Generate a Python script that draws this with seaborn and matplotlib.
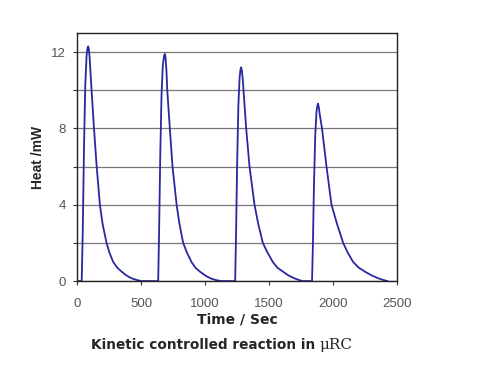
import matplotlib
matplotlib.use("Agg")
import matplotlib.pyplot as plt
import seaborn as sns
import pandas as pd

# Heat flow, four injections
time_1 = [0, 37, 45, 55, 65, 75, 82, 88, 94, 100, 114, 133, 154, 179, 200, 231, 253, 283,
          315, 348, 385, 425, 470, 505]
heat_1 = [0, 0, 2.5, 7.0, 10.3, 11.8, 12.2, 12.3, 12.1, 11.6, 10.0, 8.0, 6.0, 4.0, 3.0, 2.0,
          1.5, 1.0, 0.7, 0.5, 0.3, 0.15, 0.05, 0]

time_2 = [505, 634, 641, 650, 660, 670, 680, 686, 692, 698, 705, 725, 746, 778, 800, 829, 858,
          894, 925, 959, 1000, 1040, 1085, 1129]
heat_2 = [0, 0, 2.5, 6.5, 9.7, 11.3, 11.8, 11.9, 11.7, 11.1, 10.0, 8.0, 6.0, 4.0, 3.0, 2.0, 1.5,
          1.0, 0.7, 0.5, 0.3, 0.15, 0.05, 0]

time_3 = [1129, 1235, 1242, 1250, 1260, 1270, 1277, 1282, 1288, 1294, 1300, 1321, 1347, 1386,
          1415, 1451, 1487, 1529, 1565, 1607, 1650, 1695, 1735, 1763]
heat_3 = [0, 0, 2.5, 6.0, 9.2, 10.7, 11.1, 11.2, 11.0, 10.6, 10.0, 8.0, 6.0, 4.0,
          3.0, 2.0, 1.5, 1.0, 0.7, 0.5, 0.3, 0.15, 0.05, 0]

time_4 = [1763, 1835, 1842, 1850, 1860, 1870, 1877, 1882, 1888, 1896, 1913, 1948, 1987, 2030,
          2078, 2113, 2156, 2200, 2247, 2300, 2350, 2395, 2426]
heat_4 = [0, 0, 2.0, 5.0, 7.6, 8.9, 9.2, 9.3, 9.1, 8.7, 8.0, 6.0, 4.0, 3.0,
          2.0, 1.5, 1.0, 0.7, 0.5, 0.3, 0.15, 0.05, 0]

df = pd.DataFrame({
    "time": time_1 + time_2 + time_3 + time_4,
    "heat": heat_1 + heat_2 + heat_3 + heat_4,
})

sns.set_style("white")
plt.rcParams["font.family"] = ["Liberation Sans", "DejaVu Sans"]

fig = plt.figure(figsize=(4.78, 3.84), dpi=100)
ax = fig.add_axes([0.161, 0.268, 0.670, 0.646])

ax.yaxis.grid(True, color="#777777", linewidth=0.9)
sns.lineplot(data=df, x="time", y="heat", ax=ax, color="#2828a0",
             linewidth=1.3, sort=False, estimator=None)

ax.set_xlim(0, 2500)
ax.set_ylim(0, 13)
ax.set_xticks([0, 500, 1000, 1500, 2000, 2500])
ax.set_yticks([0, 2, 4, 6, 8, 10, 12])
ax.set_yticklabels(["0", "", "4", "", "8", "", "12"])
ax.tick_params(axis="both", direction="out", length=3, width=0.8,
               color="#333333", labelcolor="#555555", labelsize=9.5)
ax.tick_params(axis="x", pad=9, bottom=True)
ax.tick_params(axis="y", pad=5, left=True)
for s in ax.spines.values():
    s.set_color("#222222")
    s.set_linewidth(1.0)

ax.set_xlabel("Time / Sec", fontsize=10, fontweight="bold", family="DejaVu Sans", labelpad=2)
ax.set_ylabel("Heat /mW", fontsize=10, fontweight="bold", labelpad=2)
ax.yaxis.set_label_coords(-0.10, 0.5)

t = fig.text(0.19, 0.092, "Kinetic controlled reaction in ", fontsize=9.8,
             fontweight="bold", family="DejaVu Sans", va="baseline")
fig.canvas.draw()
bb = t.get_window_extent()
fig.text(bb.x1 / fig.bbox.width, 0.092, "μRC", fontsize=11,
         family="DejaVu Serif", va="baseline")

fig.savefig("out.png", dpi=100)
